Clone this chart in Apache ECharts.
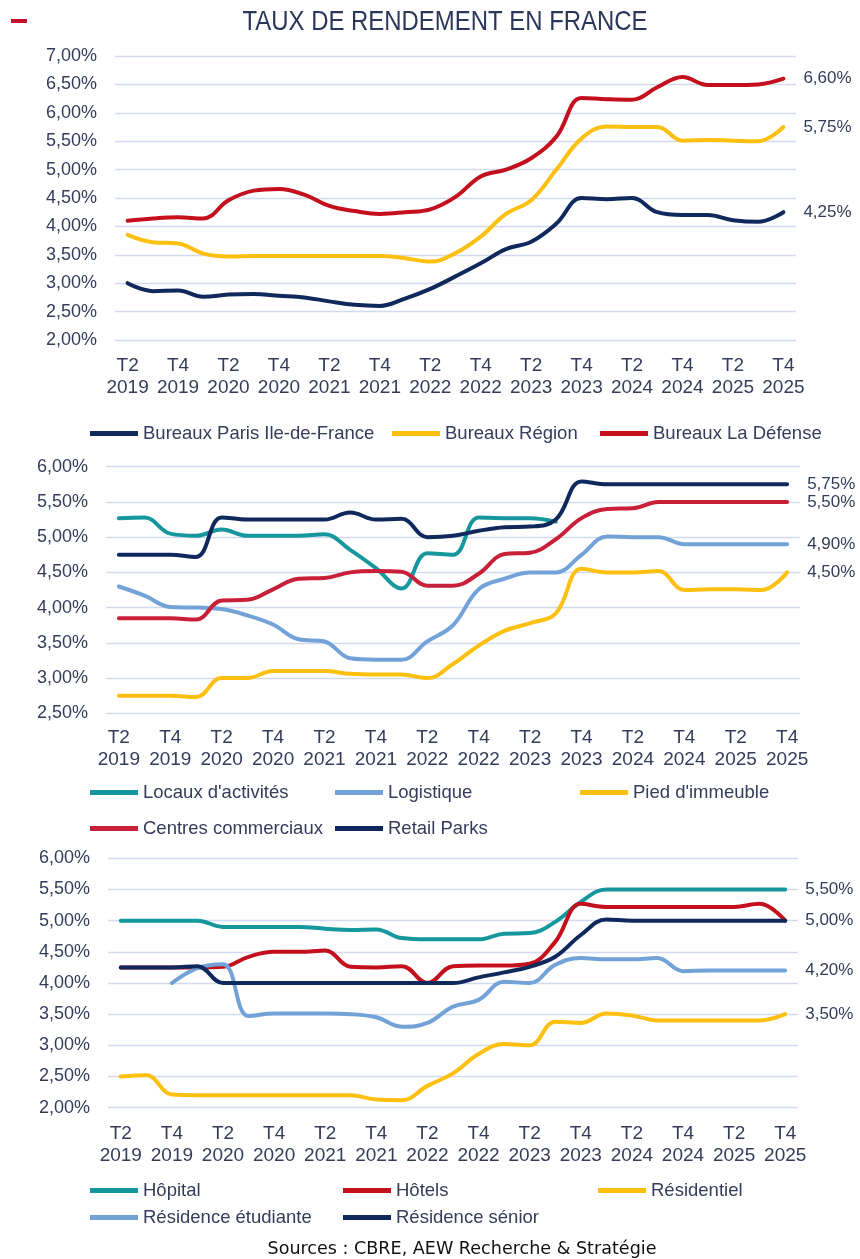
<!DOCTYPE html>
<html><head><meta charset="utf-8">
<script src="https://cdn.jsdelivr.net/npm/echarts@6/dist/echarts.min.js"></script>
<style>html,body{margin:0;padding:0;background:#fff}#c{width:860px;height:1259px}</style>
</head><body><div id="c"></div>
<script>
// ---- DATA ----
const quarters = ['T2 2019','T3 2019','T4 2019','T1 2020','T2 2020','T3 2020','T4 2020','T1 2021','T2 2021','T3 2021','T4 2021','T1 2022','T2 2022','T3 2022','T4 2022','T1 2023','T2 2023','T3 2023','T4 2023','T1 2024','T2 2024','T3 2024','T4 2024','T1 2025','T2 2025','T3 2025','T4 2025'];

// Panel 1 – bureaux
const bureauxParisIDF = [3.00,2.86,2.87,2.76,2.80,2.81,2.78,2.75,2.68,2.62,2.60,2.73,2.90,3.12,3.35,3.60,3.73,4.05,4.50,4.48,4.50,4.25,4.20,4.20,4.11,4.08,4.25];
const bureauxRegion   = [3.85,3.72,3.70,3.52,3.47,3.48,3.48,3.48,3.48,3.48,3.48,3.44,3.38,3.53,3.82,4.22,4.46,5.00,5.55,5.76,5.75,5.75,5.51,5.52,5.51,5.50,5.75];
const bureauxDefense  = [4.10,4.14,4.16,4.14,4.46,4.63,4.66,4.56,4.36,4.27,4.22,4.25,4.30,4.52,4.88,5.00,5.20,5.58,6.26,6.24,6.23,6.45,6.63,6.49,6.49,6.50,6.60];

// Panel 2 – commerces / logistique
const locauxActivites = [5.27,5.28,5.05,5.02,5.11,5.02,5.02,5.02,5.04,4.82,4.56,4.27,4.77,4.75,5.28,5.27,5.27,5.22,null,null,null,null,null,null,null,null,null];
const logistique      = [4.30,4.17,4.01,4.00,3.98,3.89,3.76,3.55,3.52,3.28,3.26,3.26,3.52,3.75,4.26,4.41,4.50,4.50,4.75,5.01,5.00,5.00,4.90,4.90,4.90,4.90,4.90];
const piedImmeuble    = [2.75,2.75,2.75,2.73,3.00,3.00,3.10,3.10,3.10,3.06,3.05,3.05,3.00,3.20,3.46,3.67,3.78,3.92,4.55,4.50,4.50,4.52,4.25,4.26,4.26,4.25,4.50];
const centresCommerciaux = [3.85,3.85,3.85,3.83,4.10,4.11,4.26,4.41,4.42,4.50,4.52,4.51,4.31,4.31,4.48,4.76,4.78,4.97,5.27,5.40,5.41,5.50,5.50,5.50,5.50,5.50,5.50];
const retailParks     = [4.75,4.75,4.75,4.72,5.28,5.25,5.25,5.25,5.25,5.35,5.25,5.26,5.00,5.02,5.09,5.14,5.15,5.25,5.79,5.75,5.75,5.75,5.75,5.75,5.75,5.75,5.75];

// Panel 3 – santé / hôtellerie / résidentiel
const hopital     = [5.00,5.00,5.00,5.00,4.90,4.90,4.90,4.90,4.87,4.85,4.86,4.72,4.70,4.70,4.70,4.79,4.80,4.98,5.30,5.50,5.50,5.50,5.50,5.50,5.50,5.50,5.50];
const hotels      = [4.25,4.25,4.25,4.25,4.26,4.42,4.50,4.50,4.52,4.26,4.25,4.27,4.00,4.27,4.28,4.28,4.31,4.66,5.27,5.22,5.22,5.22,5.22,5.22,5.22,5.27,5.00];
const residentiel = [2.50,2.52,2.21,2.20,2.20,2.20,2.20,2.20,2.20,2.20,2.13,2.12,2.35,2.55,2.86,3.02,3.00,3.38,3.36,3.51,3.48,3.40,3.40,3.40,3.40,3.40,3.50];
const residenceEtudiante = [null,null,4.00,4.24,4.30,3.47,3.51,3.51,3.51,3.50,3.45,3.30,3.36,3.62,3.73,4.02,4.00,4.29,4.40,4.38,4.38,4.40,4.19,4.20,4.20,4.20,4.20];
const residenceSenior    = [4.25,4.25,4.25,4.27,4.00,4.00,4.00,4.00,4.00,4.00,4.00,4.00,4.00,4.00,4.09,4.17,4.26,4.42,4.77,5.02,5.00,5.00,5.00,5.00,5.00,5.00,5.00];

const titleText = 'TAUX DE RENDEMENT EN FRANCE';
const sourceText = 'Sources : CBRE, AEW Recherche & Stratégie';

// ---- STYLE ----
const C = {navy:'#10295c', yellow:'#fdc010', red:'#c3101c', pink:'#c9203a', teal:'#16979d', lblue:'#72a2d8'};
const txt = '#353c5a';
const FF = '"Liberation Sans", Arial, sans-serif';
const pct = v => v.toFixed(2).replace('.', ',') + '%';

function measure(text, font){
  const c = document.createElement('canvas').getContext('2d');
  c.font = font; return c.measureText(text).width;
}

const grids = [
  {left:115, top:56, width:681, height:284},
  {left:106, top:466.7, width:694, height:246.6},
  {left:108, top:858.3, width:690, height:249.4}
];
const yRanges = [[2,7],[2.5,6],[2,6]];
const xMargins = [15, 13, 15];

const xAxes = grids.map((g,i)=>({
  type:'category', gridIndex:i, data:quarters, boundaryGap:true,
  axisLine:{show:false}, axisTick:{show:false},
  axisLabel:{interval:1, formatter:v=>v.replace(' ','\n'), fontSize:19, lineHeight:22, color:txt, margin:xMargins[i], fontFamily:FF}
}));
const yAxes = grids.map((g,i)=>({
  type:'value', gridIndex:i, min:yRanges[i][0], max:yRanges[i][1], interval:0.5,
  axisLine:{show:false}, axisTick:{show:false},
  splitLine:{lineStyle:{color:'#d3daf0', width:1.3}},
  axisLabel:{formatter:pct, fontSize:18, color:txt, margin:18, fontFamily:FF}
}));

function line(name, data, color, gi, withLabel){
  return {
    name, type:'line', data, xAxisIndex:gi, yAxisIndex:gi,
    smooth:0.4, symbol:'none', showSymbol:false,
    lineStyle:{width:4, color, cap:'round', join:'round'}, itemStyle:{color},
    endLabel:{show:!!withLabel, distance:20, fontSize:17, color:txt, fontFamily:FF,
      formatter:p=>pct(Array.isArray(p.value)?p.value[1]:p.value)}
  };
}

const series = [
  line('Bureaux Paris Ile-de-France', bureauxParisIDF, C.navy, 0, true),
  line('Bureaux Région', bureauxRegion, C.yellow, 0, true),
  line('Bureaux La Défense', bureauxDefense, C.red, 0, true),
  line("Locaux d'activités", locauxActivites, C.teal, 1, false),
  line('Logistique', logistique, C.lblue, 1, true),
  line("Pied d'immeuble", piedImmeuble, C.yellow, 1, true),
  line('Centres commerciaux', centresCommerciaux, C.pink, 1, true),
  line('Retail Parks', retailParks, C.navy, 1, true),
  line('Hôpital', hopital, C.teal, 2, true),
  line('Hôtels', hotels, C.red, 2, false),
  line('Résidentiel', residentiel, C.yellow, 2, true),
  line('Résidence étudiante', residenceEtudiante, C.lblue, 2, true),
  line('Résidence sénior', residenceSenior, C.navy, 2, true)
];

function leg(name, left, cy){
  return {data:[name], left, top:cy-10, padding:0, icon:'rect', itemWidth:48, itemHeight:5,
    selectedMode:false, textStyle:{fontSize:18.5, color:txt, fontFamily:FF}};
}
const legends = [
  leg('Bureaux Paris Ile-de-France', 90, 434),
  leg('Bureaux Région', 392, 434),
  leg('Bureaux La Défense', 600, 434),
  leg("Locaux d'activités", 90, 793),
  leg('Logistique', 335, 793),
  leg("Pied d'immeuble", 580, 793),
  leg('Centres commerciaux', 90, 829),
  leg('Retail Parks', 335, 829),
  leg('Hôpital', 90, 1191),
  leg('Hôtels', 343, 1191),
  leg('Résidentiel', 598, 1191),
  leg('Résidence étudiante', 90, 1218),
  leg('Résidence sénior', 343, 1218)
];

const titleFont = 'normal 28px "Liberation Sans"';
const titleScale = 405 / measure(titleText, titleFont);
const srcFont = 'normal 18px "DejaVu Sans"';
const srcScale = 389 / measure(sourceText, srcFont);

const option = {
  backgroundColor:'#fff', animation:false,
  grid:grids, xAxis:xAxes, yAxis:yAxes, series, legend:legends,
  graphic:[
    {type:'rect', shape:{x:11, y:19, width:16, height:4}, style:{fill:'#c8102e'}},
    {type:'text', x:445, y:22, scaleX:titleScale, style:{text:titleText, fontSize:28, fontFamily:'"Liberation Sans"', fill:'#2b375a', align:'center', verticalAlign:'middle'}},
    {type:'text', x:462, y:1249, scaleX:srcScale, style:{text:sourceText, fontSize:18, fontFamily:'"DejaVu Sans"', fill:'#111', align:'center', verticalAlign:'middle'}}
  ]
};
const chart = echarts.init(document.getElementById('c'), null, {renderer:'canvas'});
chart.setOption(option);
</script></body></html>
